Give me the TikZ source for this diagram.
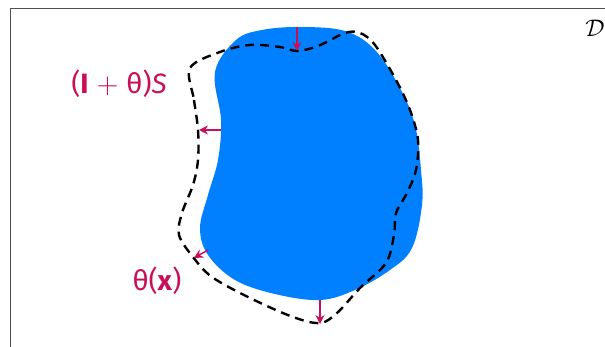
\documentclass[tikz,border=0pt]{standalone}
\usepackage{fontspec}
\newfontfamily\labelfont{Fira Sans}
\usepackage{xcolor}
\definecolor{SHmagenta}{HTML}{C8105A}
\definecolor{SHblue}{HTML}{0080FF}
\definecolor{SHframe}{HTML}{505050}
\usetikzlibrary{arrows.meta}

\begin{document}
\begin{tikzpicture}[x=0.5pt,y=-0.5pt,
  domainfill/.style={fill=SHblue,draw=none},
  moved/.style={draw=black,line width=1.2pt,dash pattern=on 4.5pt off 3pt},
  push/.style={-{Stealth[length=4.5pt,width=4.5pt]},draw=SHmagenta,line width=0.7pt},
  lbl/.style={text=SHmagenta,font=\labelfont\fontsize{14}{16}\selectfont,inner sep=0pt}]
\useasboundingbox (0,0) rectangle (605,347);
\clip (0,0) rectangle (605,347);
% hold-all domain
\draw[SHframe,line width=0.6pt] (10.5,8.5) rectangle (640,380);
\node[inner sep=0pt,font=\fontsize{12}{14}\selectfont] (hold) at (595,28) {$\mathcal{D}$};
% reference shape S
\fill[domainfill] plot[smooth cycle,tension=0.6] coordinates {
  (300,27) (345,31) (375,50) (400,88) (415,125) (421,170) (422,205)
  (412,248) (390,270) (355,290) (320,300) (275,294) (235,280) (208,255)
  (200,228) (208,195) (218,160) (221,120) (215,72) (236,40) (262,30)};
% perturbed shape
\draw[moved] plot[smooth cycle,tension=0.55] coordinates {
  (190,68) (194,100) (198,130) (198,160) (193,185) (182,213) (179,235)
  (193,257) (212,277) (250,298) (293,317) (320,323) (337,313) (360,288)
  (386,263) (394,235) (396,213) (407,193) (416,170) (418,140) (410,110)
  (396,80) (375,45) (360,33) (345,33) (318,46) (297,51) (280,47)
  (250,45) (220,52)};
% displacement field
\coordinate (t0) at (297,27);  \coordinate (t1) at (297,51);
\coordinate (l0) at (221,130); \coordinate (l1) at (199,130);
\coordinate (d0) at (208,250); \coordinate (d1) at (194,258);
\coordinate (b0) at (320,300); \coordinate (b1) at (320,324);
\draw[push] (t0) -- (t1);
\draw[push] (l0) -- (l1);
\draw[push] (d0) -- (d1);
\draw[push] (b0) -- (b1);
\node[lbl] (image) at (119,84) {(\textbf{I}$\;+\;$θ)\textit{S}};
\node[lbl] (field) at (157,281) {θ(\textbf{x})};
\end{tikzpicture}
\end{document}
